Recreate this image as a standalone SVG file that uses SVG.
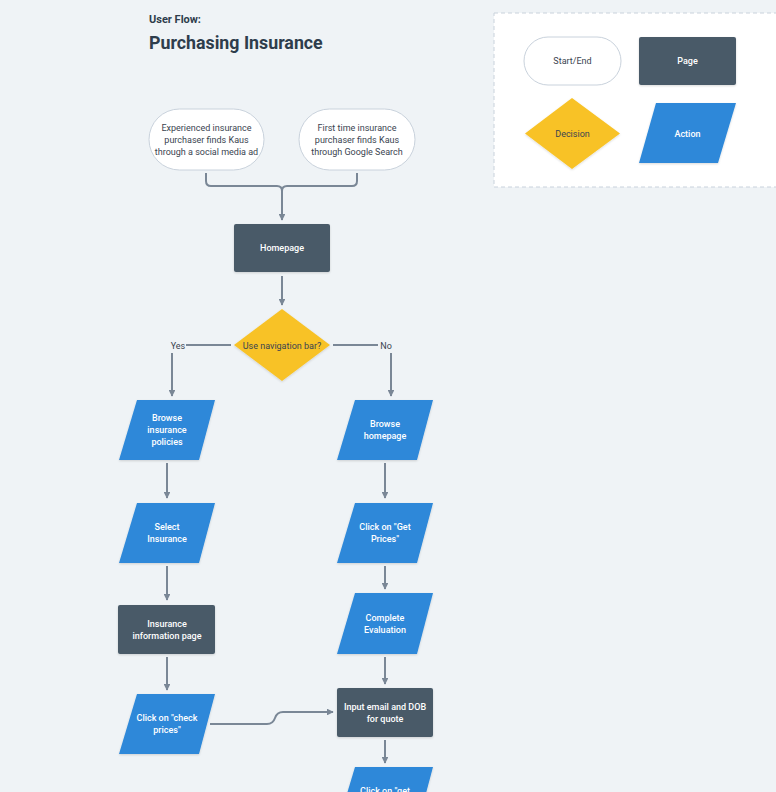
<svg xmlns="http://www.w3.org/2000/svg" width="776" height="792" viewBox="0 0 776 792">
<defs>
<marker id="arr" viewBox="0 0 10 10" refX="9" refY="5" markerWidth="3.4" markerHeight="3.4" orient="auto" markerUnits="strokeWidth">
<path d="M0,0 L10,5 L0,10 z" fill="#7a8796"/>
</marker>
<filter id="sh" x="-10%" y="-10%" width="120%" height="130%">
<feDropShadow dx="0" dy="1" stdDeviation="1" flood-color="#000" flood-opacity="0.15"/>
</filter>
<style>
.t{font-family:Roboto,"Liberation Sans",sans-serif;font-size:9px;text-anchor:middle}
.w{fill:#ffffff;font-weight:500}
.d{fill:#3a4450}
.se{fill:#ffffff;stroke:#c9d2dc;stroke-width:1}
.pg{fill:#4a5a68;filter:url(#sh)}
.ac{fill:#2d88d9;filter:url(#sh)}
.de{fill:#f8c225;filter:url(#sh)}
.c{fill:none;stroke:#7a8796;stroke-width:2}
.ca{fill:none;stroke:#7a8796;stroke-width:2;marker-end:url(#arr)}
</style>
</defs>
<rect x="0" y="0" width="776" height="792" fill="#eff3f6"/>
<g id="title">
<text x="149" y="23" style="font-family:Roboto,'Liberation Sans',sans-serif;font-size:11px;font-weight:700;fill:#2e3d4c">User Flow:</text>
<text x="149" y="49" style="font-family:Roboto,'Liberation Sans',sans-serif;font-size:17.8px;font-weight:700;fill:#2e3d4c">Purchasing Insurance</text>
</g>
<g id="legend">
<rect x="494" y="13" width="300" height="174" fill="#ffffff" stroke="#c9d2dc" stroke-width="1" stroke-dasharray="4,3"/>
<g id="legend-startend">
<rect x="524" y="37" width="97" height="48" rx="24" class="se"/>
<text x="572.5" y="64" class="t d">Start/End</text>
</g>
<g id="legend-page">
<rect x="639" y="37" width="97" height="48" rx="2" class="pg"/>
<text x="687.5" y="64" class="t w">Page</text>
</g>
<g id="legend-decision">
<polygon points="572,98 620,133.5 572,169 525,133.5" class="de"/>
<text x="572.5" y="137" class="t d">Decision</text>
</g>
<g id="legend-action">
<polygon points="656,103 736,103 718,163 639,163" class="ac"/>
<text x="687.5" y="137" class="t w">Action</text>
</g>
</g>
<g id="connectors">
<path d="M206,173 V181 Q206,186 211,186 H277 Q282,186 282,191 V220" class="ca"/>
<path d="M357,173 V181 Q357,186 352,186 H287 Q282,186 282,191" class="c"/>
<path d="M282,276 V305" class="ca"/>
<path d="M231,345 H186" class="c"/>
<text x="178" y="348.5" class="t d">Yes</text>
<path d="M172,353 V396" class="ca"/>
<path d="M333,345 H378" class="c"/>
<text x="386" y="348.5" class="t d">No</text>
<path d="M391,353 V396" class="ca"/>
<path d="M167,463 V498" class="ca"/>
<path d="M167,566 V600" class="ca"/>
<path d="M167,657 V690" class="ca"/>
<path d="M210,724 H267 Q273,724 275,718 Q277,712 283,712 H333" class="ca"/>
<path d="M385,463 V498" class="ca"/>
<path d="M385,566 V589" class="ca"/>
<path d="M385,657 V684" class="ca"/>
<path d="M385,740 V763" class="ca"/>
</g>
<g id="start1">
<rect x="149" y="109" width="115" height="61" rx="30.5" class="se"/>
<text x="206.5" y="131" class="t d">Experienced insurance</text>
<text x="206.5" y="143" class="t d">purchaser finds Kaus</text>
<text x="206.5" y="155" class="t d">through a social media ad</text>
</g>
<g id="start2">
<rect x="299" y="109" width="116" height="61" rx="30.5" class="se"/>
<text x="357" y="131" class="t d">First time insurance</text>
<text x="357" y="143" class="t d">purchaser finds Kaus</text>
<text x="357" y="155" class="t d">through Google Search</text>
</g>
<g id="homepage">
<rect x="234" y="224" width="96" height="48" rx="2" class="pg"/>
<text x="282" y="251" class="t w">Homepage</text>
</g>
<g id="decision">
<polygon points="282,309 330,345 282,381 234,345" class="de"/>
<text x="282" y="348.5" class="t d">Use navigation bar?</text>
</g>
<g id="browse-policies">
<polygon points="137,400 215,400 199,460 119,460" class="ac"/>
<text x="167" y="421" class="t w">Browse</text>
<text x="167" y="433" class="t w">insurance</text>
<text x="167" y="445" class="t w">policies</text>
</g>
<g id="select-insurance">
<polygon points="137,503 215,503 199,563 119,563" class="ac"/>
<text x="167" y="530" class="t w">Select</text>
<text x="167" y="542" class="t w">Insurance</text>
</g>
<g id="info-page">
<rect x="118" y="605" width="97" height="49" rx="2" class="pg"/>
<text x="167" y="627" class="t w">Insurance</text>
<text x="167" y="639" class="t w">information page</text>
</g>
<g id="check-prices">
<polygon points="137,694 215,694 199,754 119,754" class="ac"/>
<text x="167" y="721" class="t w">Click on "check</text>
<text x="167" y="733" class="t w">prices"</text>
</g>
<g id="browse-homepage">
<polygon points="355,400 433,400 417,460 337,460" class="ac"/>
<text x="385" y="427" class="t w">Browse</text>
<text x="385" y="439" class="t w">homepage</text>
</g>
<g id="get-prices">
<polygon points="355,503 433,503 417,563 337,563" class="ac"/>
<text x="385" y="530" class="t w">Click on "Get</text>
<text x="385" y="542" class="t w">Prices"</text>
</g>
<g id="evaluation">
<polygon points="355,593 433,593 417,654 337,654" class="ac"/>
<text x="385" y="621" class="t w">Complete</text>
<text x="385" y="633" class="t w">Evaluation</text>
</g>
<g id="input-email">
<rect x="337" y="688" width="96" height="49" rx="2" class="pg"/>
<text x="385" y="710" class="t w">Input email and DOB</text>
<text x="385" y="722" class="t w">for quote</text>
</g>
<g id="get-quote">
<polygon points="355,767 433,767 417,827 337,827" class="ac"/>
<text x="385" y="794" class="t w">Click on "get</text>
</g>
</svg>
